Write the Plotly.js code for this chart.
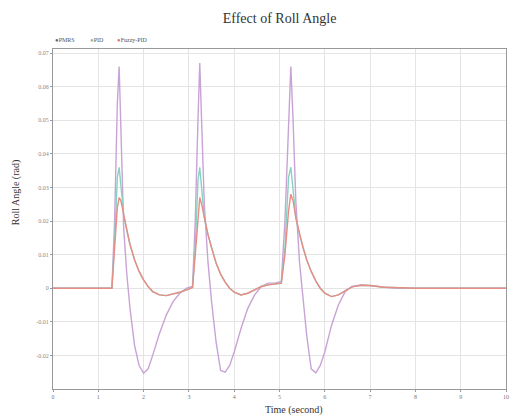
<!DOCTYPE html>
<html>
<head>
<meta charset="utf-8">
<script src="https://cdn.plot.ly/plotly-3.0.1.min.js"></script>
<style>html,body{margin:0;padding:0;background:#fff}#chart{width:513px;height:418px}</style>
</head>
<body>
<div id="chart"></div>
<script>
const seriesNames = ["PMRS", "PID", "Fuzzy-PID"];
const seriesColors = ["#c9a3d6", "#86d3c2", "#e98c84"];
const legendDotColors = ["#6f5a78", "#6fbfae", "#e0756c"];

const time = [0, 1.3, 1.36, 1.42, 1.46, 1.5, 1.56, 1.63, 1.7, 1.8, 1.9, 2.0, 2.1, 2.2, 2.35, 2.5, 2.65, 2.8, 2.95, 3.08,
  3.14, 3.2, 3.24, 3.28, 3.34, 3.42, 3.5, 3.6, 3.7, 3.8, 3.9, 4.0, 4.15, 4.3, 4.45, 4.6, 4.75, 4.9, 5.04,
  5.12, 5.2, 5.25, 5.3, 5.36, 5.44, 5.52, 5.6, 5.7, 5.8, 5.9, 6.0, 6.15, 6.3, 6.45, 6.6, 6.8, 7.0, 7.3, 7.6, 8, 9, 10];

const pmrs = [0, 0, 0.02, 0.055, 0.066, 0.045, 0.018, 0.004, -0.006, -0.017, -0.023, -0.0253, -0.024, -0.02, -0.0135, -0.008, -0.004, -0.0015, 0.0, 0.0005,
  0.02, 0.05, 0.067, 0.05, 0.025, 0.008, -0.004, -0.016, -0.0245, -0.025, -0.023, -0.019, -0.012, -0.006, -0.002, 0.0005, 0.0015, 0.0015, 0.002,
  0.02, 0.05, 0.066, 0.05, 0.026, 0.008, -0.004, -0.014, -0.024, -0.0252, -0.023, -0.019, -0.011, -0.005, -0.001, 0.0005, 0.001, 0.0008, 0.0003, 0, 0, 0, 0];

const pid = [0, 0, 0.014, 0.033, 0.036, 0.03, 0.022, 0.017, 0.013, 0.0085, 0.005, 0.0025, 0.0005, -0.001, -0.002, -0.0022, -0.0018, -0.0012, -0.0005, 0.0002,
  0.012, 0.032, 0.036, 0.03, 0.021, 0.016, 0.012, 0.0075, 0.0042, 0.0018, 0.0, -0.0012, -0.002, -0.0015, -0.0005, 0.0005, 0.001, 0.0012, 0.0015,
  0.012, 0.033, 0.036, 0.03, 0.021, 0.016, 0.012, 0.0085, 0.005, 0.0022, 0.0, -0.0015, -0.0025, -0.002, -0.0008, 0.0004, 0.0009, 0.0008, 0.0003, 0.0001, 0, 0, 0];

const fuzzyPid = [0, 0, 0.012, 0.024, 0.027, 0.026, 0.022, 0.017, 0.013, 0.0085, 0.005, 0.0025, 0.0005, -0.001, -0.002, -0.0022, -0.0018, -0.0012, -0.0005, 0.0002,
  0.01, 0.022, 0.027, 0.025, 0.021, 0.016, 0.012, 0.0075, 0.0042, 0.0018, 0.0, -0.0012, -0.002, -0.0015, -0.0005, 0.0005, 0.001, 0.0012, 0.0015,
  0.01, 0.023, 0.028, 0.026, 0.021, 0.016, 0.012, 0.0085, 0.005, 0.0022, 0.0, -0.0015, -0.0025, -0.002, -0.0008, 0.0004, 0.0009, 0.0008, 0.0003, 0.0001, 0, 0, 0];

const xTicks = [0, 1, 2, 3, 4, 5, 6, 7, 8, 9, 10];
const yTicks = [-0.02, -0.01, 0, 0.01, 0.02, 0.03, 0.04, 0.05, 0.06, 0.07];
const yTickText = ["-0.02", "-0.01", "0", "0.01", "0.02", "0.03", "0.04", "0.05", "0.06", "0.07"];

const values = [pmrs, pid, fuzzyPid];
const traces = values.map((v, i) => ({
  x: time, y: v, type: "scatter", mode: "lines", name: seriesNames[i],
  line: {color: seriesColors[i], width: 1.4}
}));

const serif = "Liberation Serif, Times New Roman, serif";
const legendX = [0.0, 0.077, 0.137];
const annotations = seriesNames.map((n, i) => ({
  xref: "paper", yref: "paper", x: legendX[i], y: 1.026, xanchor: "left", yanchor: "middle",
  showarrow: false, text: "<span style='color:" + legendDotColors[i] + "'>●</span>" + n,
  font: {family: serif, size: 6, color: "#555"}
}));
annotations.push({
  xref: "paper", yref: "paper", x: 0.532, y: -0.062, xanchor: "center", yanchor: "middle",
  showarrow: false, text: "Time (second)", font: {family: serif, size: 10, color: "#333"}
});
annotations.push({
  xref: "paper", yref: "paper", x: -0.08, y: 0.578, xanchor: "center", yanchor: "middle", textangle: -90,
  showarrow: false, text: "Roll Angle (rad)", font: {family: serif, size: 10, color: "#333"}
});

const layout = {
  width: 513, height: 418,
  margin: {l: 53, r: 7, t: 49, b: 29},
  paper_bgcolor: "#ffffff", plot_bgcolor: "#ffffff",
  title: {text: "Effect of Roll Angle", font: {family: serif, size: 14, color: "#333"}, x: 0.545, xanchor: "center", y: 0.957, yanchor: "middle"},
  showlegend: false,
  annotations: annotations,
  xaxis: {
    range: [0, 10], tickvals: xTicks, ticktext: xTicks.map(String),
    showgrid: true, gridcolor: "#e4e4e4", gridwidth: 1,
    zeroline: false, showline: true, linecolor: "#999", linewidth: 1, mirror: true,
    ticks: "outside", ticklen: 2, tickcolor: "#999",
    tickfont: {family: serif, size: 6, color: "#777"}
  },
  yaxis: {
    range: [-0.03, 0.0712], tickvals: yTicks, ticktext: yTickText,
    showgrid: true, gridcolor: "#e4e4e4", gridwidth: 1,
    zeroline: false, showline: true, linecolor: "#999", linewidth: 1, mirror: true,
    ticks: "outside", ticklen: 2, tickcolor: "#999",
    tickfont: {family: serif, size: 6, color: "#888"}
  }
};

Plotly.newPlot("chart", traces, layout, {displayModeBar: false, staticPlot: true});
</script>
</body>
</html>
